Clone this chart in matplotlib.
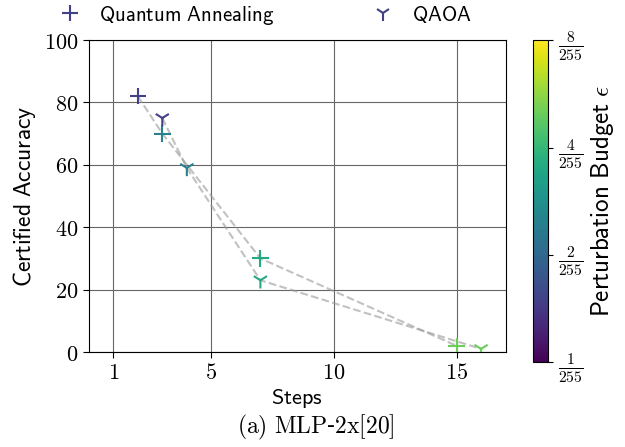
import matplotlib
matplotlib.use("Agg")
import matplotlib.pyplot as plt
import numpy as np
from matplotlib.colors import LogNorm
from matplotlib.lines import Line2D

plt.rcParams['mathtext.fontset'] = 'cm'
plt.rcParams['font.family'] = 'serif'
plt.rcParams['font.serif'] = ['DejaVu Serif']

# data
qa_steps = [2, 3, 7, 15]
qa_acc = [82, 70, 30, 2]
qa_eps = [1.5 / 255, 2.5 / 255, 3.5 / 255, 5 / 255]

qaoa_steps = [3, 4, 7, 16]
qaoa_acc = [75, 59, 23, 1]
qaoa_eps = [1.5 / 255, 2.5 / 255, 3.5 / 255, 5 / 255]

x_ticks = [1, 5, 10, 15]
y_ticks = [0, 20, 40, 60, 80, 100]
cb_ticks = [1 / 255, 2 / 255, 4 / 255, 8 / 255]
cb_labels = [r'$\frac{1}{255}$', r'$\frac{2}{255}$', r'$\frac{4}{255}$', r'$\frac{8}{255}$']

norm = LogNorm(vmin=1 / 255, vmax=8 / 255)
cmap = plt.get_cmap('viridis')

fig = plt.figure(figsize=(6.25, 4.47), dpi=100)
ax = fig.add_axes([0.142, 0.2125, 0.667, 0.698])
cax = fig.add_axes([0.852, 0.19, 0.025, 0.72])

ax.plot(qa_steps, qa_acc, '--', color='0.6', alpha=0.6, lw=1.5, zorder=2)
ax.plot(qaoa_steps, qaoa_acc, '--', color='0.6', alpha=0.6, lw=1.5, zorder=2)
sc = ax.scatter(qa_steps, qa_acc, c=qa_eps, cmap=cmap, norm=norm, marker='+',
                s=140, linewidths=1.5, zorder=3)
ax.scatter(qaoa_steps, qaoa_acc, c=qaoa_eps, cmap=cmap, norm=norm, marker='1',
           s=140, linewidths=1.5, zorder=3)

ax.set_xlim(0, 17)
ax.set_ylim(0, 100)
ax.set_xticks(x_ticks)
ax.set_xticklabels([r'$%d$' % t for t in x_ticks])
ax.set_yticks(y_ticks)
ax.set_yticklabels([r'$%d$' % t for t in y_ticks])
ax.tick_params(labelsize=16, length=4)
ax.grid(color='0.4', lw=0.8)
ax.set_axisbelow(True)

ax.set_xlabel(r'$\mathsf{Steps}$', fontsize=16, labelpad=2)
ax.set_ylabel(r'$\mathsf{Certified\ Accuracy}$', fontsize=17, labelpad=4)
fig.text(0.505, 0.03, r'$\mathrm{(a)\ MLP}$-$\mathrm{2x[20]}$', ha='center', fontsize=17)

lead = cmap(norm(1.5 / 255))
handles = [Line2D([], [], ls='none', marker='+', ms=11, mew=1.5, color=lead),
           Line2D([], [], ls='none', marker='1', ms=11, mew=1.5, color=lead)]
fig.legend(handles, [r'$\mathsf{Quantum\ Annealing}$', r'$\mathsf{QAOA}$'],
           loc='center left', bbox_to_anchor=(0.0656, 0.966), ncol=2, frameon=False,
           fontsize=15, columnspacing=4.2, handletextpad=0.4, borderaxespad=0)

cb = fig.colorbar(sc, cax=cax)
cb.set_ticks(cb_ticks)
cb.set_ticklabels(cb_labels)
cb.minorticks_off()
cb.ax.tick_params(labelsize=16)
cb.set_label(r'$\mathsf{Perturbation\ Budget}\ \epsilon$', fontsize=18, labelpad=4)

fig.savefig('out.png', dpi=100)
